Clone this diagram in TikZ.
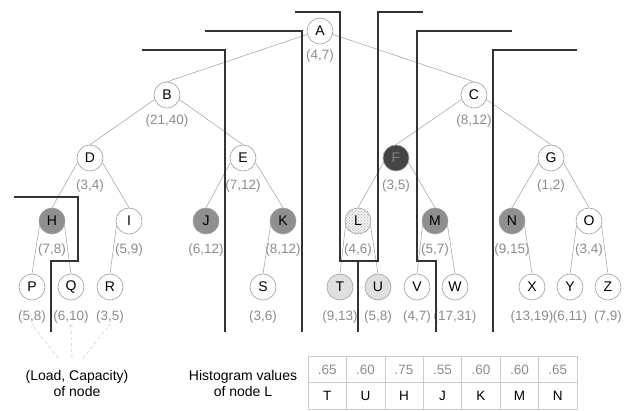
\documentclass[tikz,border=0pt]{standalone}
\usepackage{fontspec}
\setmainfont{Liberation Sans}
\usetikzlibrary{patterns}

\definecolor{wallgray}{rgb}{0.2, 0.2, 0.2}
\definecolor{edgegray}{rgb}{0.62, 0.62, 0.62}
\definecolor{capgray}{rgb}{0.55, 0.55, 0.55}
\definecolor{hotgray}{rgb}{0.56, 0.56, 0.56}
\definecolor{busygray}{rgb}{0.27, 0.27, 0.27}
\definecolor{palegray}{rgb}{0.88, 0.88, 0.88}
\definecolor{hintgray}{rgb}{0.8, 0.8, 0.8}

\begin{document}
\begin{tikzpicture}[x=1pt,y=-1pt,
		vtx/.style={circle,draw=edgegray,line width=0.6pt,minimum size=26pt,inner sep=0pt,font=\fontsize{14}{16}\selectfont},
		hot/.style={vtx,fill=hotgray},
		lc/.style={text=capgray,inner sep=1pt,font=\fontsize{13.5}{16}\selectfont},
		tie/.style={edgegray,line width=0.5pt},
		wall/.style={wallgray,line width=2.2pt},
		hint/.style={hintgray,dashed,line width=0.6pt,->},
		cell/.style={draw=hintgray,line width=0.6pt,minimum width=38.43pt,minimum height=26.5pt,inner sep=0pt,font=\fontsize{13.5}{16}\selectfont}]
		\useasboundingbox (0,0) rectangle (637,411);
		
		% tree nodes
		\node[vtx] (A) at (320,31) {A};
		\node[vtx] (B) at (167,95) {B};
		\node[vtx] (C) at (474,95) {C};
		\node[vtx] (D) at (90,158) {D};
		\node[vtx] (E) at (243,158) {E};
		\node[vtx,fill=busygray,text=gray] (F) at (396,158) {F};
		\node[vtx] (G) at (551,158) {G};
		\node[hot] (H) at (52,221) {H};
		\node[vtx] (I) at (129,221) {I};
		\node[hot] (J) at (206,221) {J};
		\node[hot] (K) at (283,221) {K};
		\node[vtx,fill=gray!12,postaction={pattern=crosshatch dots,pattern color=gray!60}] (L) at (358,221) {L};
		\node[hot] (M) at (435,221) {M};
		\node[hot] (N) at (512,221) {N};
		\node[vtx] (O) at (589,221) {O};
		\node[vtx] (P) at (32,287) {P};
		\node[vtx] (Q) at (71,287) {Q};
		\node[vtx] (R) at (110,287) {R};
		\node[vtx] (S) at (263,287) {S};
		\node[vtx,fill=palegray] (T) at (340,287) {T};
		\node[vtx,fill=palegray] (U) at (378,287) {U};
		\node[vtx] (V) at (417,287) {V};
		\node[vtx] (W) at (455,287) {W};
		\node[vtx] (X) at (532,287) {X};
		\node[vtx] (Y) at (570,287) {Y};
		\node[vtx] (Z) at (608,287) {Z};
		
		% (load,capacity) under each node
		\node[lc] (lA) at (320,56) {(4,7)};
		\node[lc] (lB) at (167,121) {(21,40)};
		\node[lc] (lC) at (474,121) {(8,12)};
		\node[lc] (lD) at (90,186) {(3,4)};
		\node[lc] (lE) at (243,186) {(7,12)};
		\node[lc] (lF) at (396,186) {(3,5)};
		\node[lc] (lG) at (551,186) {(1,2)};
		\node[lc] (lH) at (52,250) {(7,8)};
		\node[lc] (lI) at (129,250) {(5,9)};
		\node[lc] (lJ) at (206,250) {(6,12)};
		\node[lc] (lK) at (283,250) {(8,12)};
		\node[lc] (lL) at (358,250) {(4,6)};
		\node[lc] (lM) at (435,250) {(5,7)};
		\node[lc] (lN) at (512,250) {(9,15)};
		\node[lc] (lO) at (589,250) {(3,4)};
		\node[lc] (lP) at (32,317) {(5,8)};
		\node[lc] (lQ) at (71,317) {(6,10)};
		\node[lc] (lR) at (110,317) {(3,5)};
		\node[lc] (lS) at (263,317) {(3,6)};
		\node[lc] (lT) at (340,317) {(9,13)};
		\node[lc] (lU) at (378,317) {(5,8)};
		\node[lc] (lV) at (417,317) {(4,7)};
		\node[lc] (lW) at (455,317) {(17,31)};
		\node[lc] (lX) at (532,317) {(13,19)};
		\node[lc] (lY) at (570,317) {(6,11)};
		\node[lc] (lZ) at (608,317) {(7,9)};
		
		% tree edges
		\draw[tie] (A.195) -- (B.north);
		\draw[tie] (A.-15) -- (C.north);
		\draw[tie] (B.200) -- (D.north);
		\draw[tie] (B.-20) -- (E.north);
		\draw[tie] (C.200) -- (F.north);
		\draw[tie] (C.-20) -- (G.north);
		\draw[tie] (D.200) -- (H.north);
		\draw[tie] (D.-20) -- (I.north);
		\draw[tie] (E.200) -- (J.north);
		\draw[tie] (E.-20) -- (K.north);
		\draw[tie] (F.200) -- (L.north);
		\draw[tie] (F.-20) -- (M.north);
		\draw[tie] (G.200) -- (N.north);
		\draw[tie] (G.-20) -- (O.north);
		\draw[tie] (H.200) -- (P.north);
		\draw[tie] (H.-20) -- (Q.north);
		\draw[tie] (I.200) -- (R.north);
		\draw[tie] (K.200) -- (S.north);
		\draw[tie] (L.200) -- (T.north);
		\draw[tie] (L.-20) -- (U.north);
		\draw[tie] (M.200) -- (V.north);
		\draw[tie] (M.-20) -- (W.north);
		\draw[tie] (N.-20) -- (X.north);
		\draw[tie] (O.200) -- (Y.north);
		\draw[tie] (O.-20) -- (Z.north);
		
		% partition walls
		\draw[wall] (14,197) -- (78,197) -- (78,261) -- (51,261) -- (51,332);
		\draw[wall] (142,50) -- (225,50) -- (225,332);
		\draw[wall] (205,31) -- (302,31) -- (302,332);
		\draw[wall] (295,12) -- (340,12) -- (340,261) -- (378,261) -- (378,12) -- (423,12);
		\draw[wall] (358,261) -- (358,332);
		\draw[wall] (512,31) -- (417,31) -- (417,261) -- (436,261) -- (436,332);
		\draw[wall] (577,50) -- (493,50) -- (493,332);
		
		% legend
		\node[align=center,font=\fontsize{14}{16}\selectfont] (lgd) at (77,383) {(Load, Capacity)\\of node};
		\coordinate (hP) at (58,358);
		\coordinate (hQ) at (72,358);
		\coordinate (hR) at (83,358);
		\draw[hint] (hP) -- (lP.south);
		\draw[hint] (hQ) -- (lQ.south);
		\draw[hint] (hR) -- (lR.south);
		
		\node[align=center,font=\fontsize{14}{16}\selectfont] (hist) at (243,383) {Histogram values\\of node L};
		\node[cell,text=capgray] (v1) at (327.2,369.5) {.65};
		\node[cell,text=capgray] (v2) at (365.6,369.5) {.60};
		\node[cell,text=capgray] (v3) at (404.1,369.5) {.75};
		\node[cell,text=capgray] (v4) at (442.5,369.5) {.55};
		\node[cell,text=capgray] (v5) at (480.9,369.5) {.60};
		\node[cell,text=capgray] (v6) at (519.4,369.5) {.60};
		\node[cell,text=capgray] (v7) at (557.8,369.5) {.65};
		\node[cell] (n1) at (327.2,396) {T};
		\node[cell] (n2) at (365.6,396) {U};
		\node[cell] (n3) at (404.1,396) {H};
		\node[cell] (n4) at (442.5,396) {J};
		\node[cell] (n5) at (480.9,396) {K};
		\node[cell] (n6) at (519.4,396) {M};
		\node[cell] (n7) at (557.8,396) {N};
		
	\end{tikzpicture}
\end{document}
